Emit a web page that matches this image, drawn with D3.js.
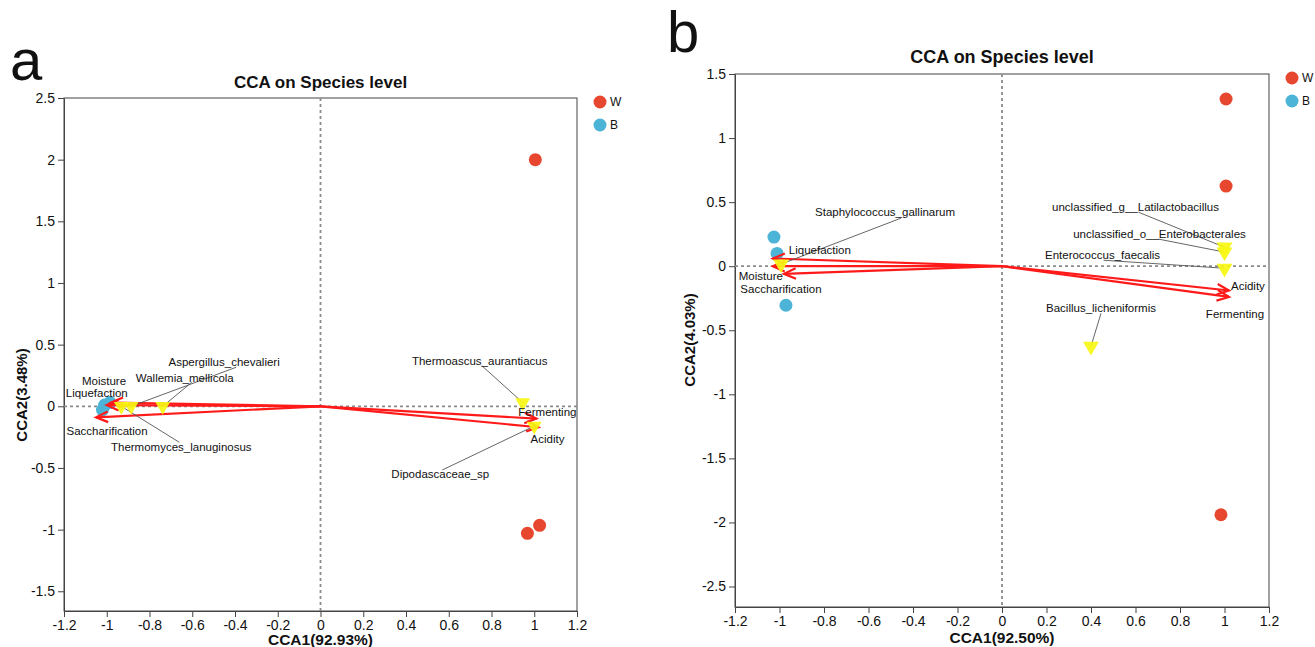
<!DOCTYPE html>
<html>
<head>
<meta charset="utf-8">
<script src="https://cdn.jsdelivr.net/npm/d3@7/dist/d3.min.js"></script>
<style>
  body { margin: 0; background: #fff; }
  text { font-family: "Liberation Sans", Arial, sans-serif; fill: #111; }
</style>
</head>
<body>
<svg id="chart" width="1315" height="647"></svg>
<script>
// ---- data ----
const groups = ["W", "B"];
const groupColors = { W: "#e8472f", B: "#4cb4d6" };

const xTicks = [-1.2, -1, -0.8, -0.6, -0.4, -0.2, 0, 0.2, 0.4, 0.6, 0.8, 1, 1.2];
const yTicksA = [-1.5, -1, -0.5, 0, 0.5, 1, 1.5, 2, 2.5];
const yTicksB = [-2.5, -2, -1.5, -1, -0.5, 0, 0.5, 1, 1.5];

const samplesA = [
  { group: "W", x: 1.005, y: 2.0 },
  { group: "W", x: 0.968, y: -1.03 },
  { group: "W", x: 1.025, y: -0.965 },
  { group: "B", x: -1.02, y: -0.03 },
  { group: "B", x: -1.01, y: 0.01 },
  { group: "B", x: -0.985, y: 0.03 },
];
const speciesA = [
  { name: "Thermomyces_lanuginosus", x: -0.932, y: 0.0 },
  { name: "Aspergillus_chevalieri", x: -0.886, y: 0.0 },
  { name: "Wallemia_mellicola", x: -0.738, y: 0.0 },
  { name: "Thermoascus_aurantiacus", x: 0.946, y: 0.03 },
  { name: "Dipodascaceae_sp", x: 1.0, y: -0.16 },
];
const factorsA = [
  { name: "Moisture", x: -0.98, y: 0.03 },
  { name: "Liquefaction", x: -1.0, y: 0.01 },
  { name: "Saccharification", x: -1.05, y: -0.09 },
  { name: "Fermenting", x: 1.01, y: -0.1 },
  { name: "Acidity", x: 1.02, y: -0.17 },
];

const samplesB = [
  { group: "W", x: 1.007, y: 1.305 },
  { group: "W", x: 1.007, y: 0.625 },
  { group: "W", x: 0.984, y: -1.94 },
  { group: "B", x: -1.025, y: 0.227 },
  { group: "B", x: -1.011, y: 0.1 },
  { group: "B", x: -0.971, y: -0.305 },
];
const speciesB = [
  { name: "Staphylococcus_gallinarum", x: -0.993, y: 0.016 },
  { name: "unclassified_g__Latilactobacillus", x: 1.0, y: 0.148 },
  { name: "unclassified_o__Enterobacterales", x: 1.0, y: 0.11 },
  { name: "Enterococcus_faecalis", x: 1.0, y: -0.016 },
  { name: "Bacillus_licheniformis", x: 0.4, y: -0.625 },
];
const factorsB = [
  { name: "Liquefaction", x: -1.03, y: 0.06 },
  { name: "Moisture", x: -1.03, y: 0.0 },
  { name: "Saccharification", x: -0.98, y: -0.06 },
  { name: "Acidity", x: 1.02, y: -0.19 },
  { name: "Fermenting", x: 1.02, y: -0.24 },
];

// ---- layout (pixel offsets for labels, leader starts) ----
const labelOffsets = {
  a: {
    Thermomyces_lanuginosus: { dx: 60, dy: 41, lx: 58, ly: 36 },
    Aspergillus_chevalieri: { dx: 93, dy: -44, lx: 105, ly: -39 },
    Wallemia_mellicola: { dx: 22, dy: -28, lx: 29, ly: -24 },
    Thermoascus_aurantiacus: { dx: -43, dy: -42, lx: -41, ly: -37 },
    Dipodascaceae_sp: { dx: -94, dy: 48, lx: -92, ly: 44 },
    Moisture: { dx: -7, dy: -22 },
    Liquefaction: { dx: -10, dy: -12 },
    Saccharification: { dx: 11, dy: 14 },
    Fermenting: { dx: 11, dy: -7 },
    Acidity: { dx: 9, dy: 12 },
  },
  b: {
    Staphylococcus_gallinarum: { dx: 104, dy: -52, lx: 120, ly: -46 },
    unclassified_g__Latilactobacillus: { dx: -89, dy: -40, lx: -86, ly: -35 },
    unclassified_o__Enterobacterales: { dx: -65, dy: -18, lx: -66, ly: -13 },
    Enterococcus_faecalis: { dx: -122, dy: -13, lx: -121, ly: -8 },
    Bacillus_licheniformis: { dx: 10, dy: -38, lx: 10, ly: -33 },
    Liquefaction: { dx: 47, dy: -9 },
    Moisture: { dx: -12, dy: 10 },
    Saccharification: { dx: -3, dy: 15 },
    Acidity: { dx: 19, dy: -5 },
    Fermenting: { dx: 6, dy: 17 },
  },
};

const panels = [
  {
    key: "a", letter: { x: 10, y: 80 }, title: { y: 88, size: 17 },
    xRange: [64, 577], yRange: [611, 98], yDomain: [-1.66, 2.5], yTicks: yTicksA,
    xTitle: "CCA1(92.93%)", xTitleY: 645, yTitle: "CCA2(3.48%)", yTitlePos: [22, 395],
    legend: { x: 600, y: 102 },
    samples: samplesA, species: speciesA, factors: factorsA,
  },
  {
    key: "b", letter: { x: 667, y: 52 }, title: { y: 63, size: 18 },
    xRange: [735, 1269], yRange: [607, 74], yDomain: [-2.66, 1.5], yTicks: yTicksB,
    xTitle: "CCA1(92.50%)", xTitleY: 643, yTitle: "CCA2(4.03%)", yTitlePos: [690, 340],
    legend: { x: 1292, y: 78 },
    samples: samplesB, species: speciesB, factors: factorsB,
  },
];

const svg = d3.select("#chart");
const axisColor = "#444";

function drawPanel(p) {
  const g = svg.append("g");
  const x = d3.scaleLinear().domain([-1.2, 1.2]).range(p.xRange);
  const y = d3.scaleLinear().domain(p.yDomain).range(p.yRange);
  const offs = labelOffsets[p.key];

  g.append("text").attr("x", p.letter.x).attr("y", p.letter.y)
    .attr("font-size", 58).text(p.key);
  g.append("text").attr("x", x(0)).attr("y", p.title.y).attr("text-anchor", "middle")
    .attr("font-size", p.title.size).attr("font-weight", "bold").text("CCA on Species level");

  // frame
  g.append("rect").attr("x", p.xRange[0]).attr("y", p.yRange[1])
    .attr("width", p.xRange[1] - p.xRange[0]).attr("height", p.yRange[0] - p.yRange[1])
    .attr("fill", "none").attr("stroke", axisColor).attr("stroke-width", 1);

  // axes
  const ax = g.append("g").attr("transform", `translate(0,${p.yRange[0]})`)
    .call(d3.axisBottom(x).tickValues(xTicks).tickSize(6).tickSizeOuter(0).tickFormat(d => String(d)));
  const ay = g.append("g").attr("transform", `translate(${p.xRange[0]},0)`)
    .call(d3.axisLeft(y).tickValues(p.yTicks).tickSize(6).tickSizeOuter(0).tickFormat(d => String(d)));
  [ax, ay].forEach(a => {
    a.select(".domain").attr("stroke", axisColor);
    a.selectAll(".tick line").attr("stroke", axisColor);
    a.selectAll(".tick text").attr("font-size", 14).attr("fill", "#222")
      .attr("font-family", '"Liberation Sans", Arial, sans-serif');
  });

  g.append("text").attr("x", x(0)).attr("y", p.xTitleY).attr("text-anchor", "middle")
    .attr("font-size", 15.5).attr("font-weight", "bold").text(p.xTitle);
  g.append("text").attr("transform", `translate(${p.yTitlePos[0]},${p.yTitlePos[1]}) rotate(-90)`)
    .attr("text-anchor", "middle").attr("dy", "0.35em")
    .attr("font-size", 15).attr("font-weight", "bold").text(p.yTitle);

  // zero reference lines
  g.append("line").attr("x1", p.xRange[0]).attr("x2", p.xRange[1]).attr("y1", y(0)).attr("y2", y(0))
    .attr("stroke", "#8a8a8a").attr("stroke-width", 1.8).attr("stroke-dasharray", "3,3");
  g.append("line").attr("x1", x(0)).attr("x2", x(0)).attr("y1", p.yRange[1]).attr("y2", p.yRange[0])
    .attr("stroke", "#8a8a8a").attr("stroke-width", 1.8).attr("stroke-dasharray", "3,3");

  // samples
  g.selectAll("circle.sample").data(p.samples).join("circle").attr("class", "sample")
    .attr("cx", d => x(d.x)).attr("cy", d => y(d.y)).attr("r", 6.5)
    .attr("fill", d => groupColors[d.group]);

  // environmental arrows
  const arrows = g.selectAll("g.arrow").data(p.factors).join("g").attr("class", "arrow");
  arrows.append("line").attr("x1", x(0)).attr("y1", y(0))
    .attr("x2", d => x(d.x)).attr("y2", d => y(d.y))
    .attr("stroke", "#ff1a1a").attr("stroke-width", 2.2);
  arrows.append("path")
    .attr("d", d => {
      const tx = x(d.x), ty = y(d.y);
      const ang = Math.atan2(ty - y(0), tx - x(0));
      const len = 13, spread = 0.42;
      const p1 = [tx - len * Math.cos(ang - spread), ty - len * Math.sin(ang - spread)];
      const p2 = [tx - len * Math.cos(ang + spread), ty - len * Math.sin(ang + spread)];
      return `M${p1[0]},${p1[1]}L${tx},${ty}L${p2[0]},${p2[1]}`;
    })
    .attr("fill", "none").attr("stroke", "#ff1a1a").attr("stroke-width", 2.2);

  // species leader lines
  g.selectAll("line.leader").data(p.species).join("line").attr("class", "leader")
    .attr("x1", d => x(d.x) + offs[d.name].lx).attr("y1", d => y(d.y) + offs[d.name].ly)
    .attr("x2", d => x(d.x)).attr("y2", d => y(d.y))
    .attr("stroke", "#555").attr("stroke-width", 0.9);

  // species triangles (pointing down)
  const tri = d3.symbol().type(d3.symbolTriangle).size(p.key === "b" ? 110 : 95);
  g.selectAll("path.species").data(p.species).join("path").attr("class", "species")
    .attr("d", tri)
    .attr("transform", d => `translate(${x(d.x)},${y(d.y)}) rotate(180)`)
    .attr("fill", "#f7f712").attr("opacity", 0.92);

  // labels
  g.selectAll("text.sp").data(p.species).join("text").attr("class", "sp")
    .attr("x", d => x(d.x) + offs[d.name].dx).attr("y", d => y(d.y) + offs[d.name].dy)
    .attr("text-anchor", "middle").attr("dy", "0.35em").attr("font-size", 11.5)
    .text(d => d.name);
  g.selectAll("text.fac").data(p.factors).join("text").attr("class", "fac")
    .attr("x", d => x(d.x) + offs[d.name].dx).attr("y", d => y(d.y) + offs[d.name].dy)
    .attr("text-anchor", "middle").attr("dy", "0.35em").attr("font-size", 11.5)
    .text(d => d.name);

  // legend
  const lg = g.selectAll("g.legend").data(groups).join("g").attr("class", "legend")
    .attr("transform", (d, i) => `translate(${p.legend.x},${p.legend.y + i * 23})`);
  lg.append("circle").attr("r", 6.5).attr("fill", d => groupColors[d]);
  lg.append("text").attr("x", 10).attr("dy", "0.35em").attr("font-size", 12).text(d => d);
}

panels.forEach(drawPanel);
</script>
</body>
</html>
